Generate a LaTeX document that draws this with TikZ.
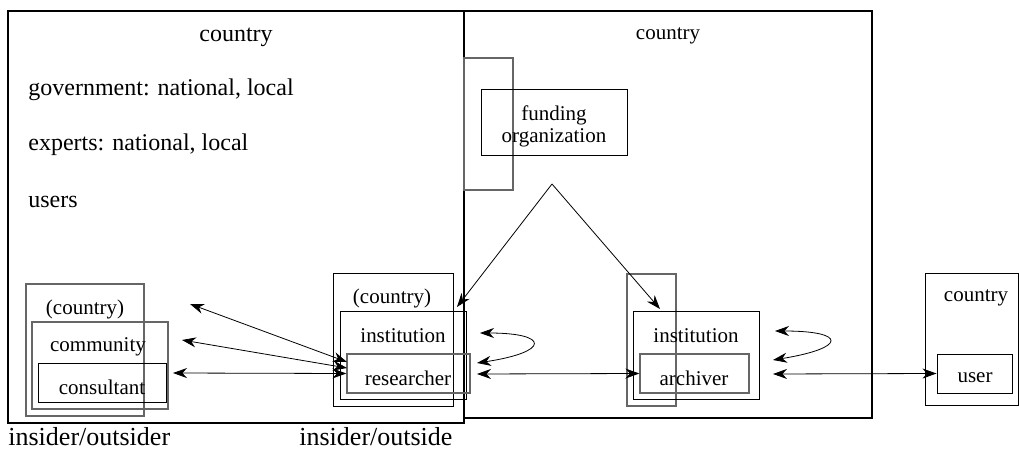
\documentclass[tikz,border=0pt]{standalone}
\usepackage{fontspec}
\setmainfont{Liberation Serif}
\usetikzlibrary{fit,arrows.meta}
\begin{document}
\begin{tikzpicture}[x=0.5pt,y=-0.5pt,
    >={Stealth[length=7pt,width=5pt]},
    every node/.style={inner sep=0pt,font=\fontsize{10.5}{11}\selectfont},
    bigtxt/.style={font=\fontsize{12}{13}\selectfont},
    note/.style={font=\fontsize{13}{14}\selectfont},
    frame/.style={draw,line width=1pt},
    box/.style={draw,line width=0.5pt},
    greybox/.style={draw=black!60,line width=0.6pt},
    link/.style={line width=0.4pt}]
    \useasboundingbox (0,0) rectangle (1019,449);

    % the two countries
    \node [frame,fit={(8,11) (464,423)}] (home) {};
    \node [frame,fit={(464,11) (872,418)}] (abroad) {};
    \node [bigtxt] (homelabel) at (236,37) {country};
    \node [bigtxt,anchor=west] (gov) at (28,90) {government: national, local};
    \node [bigtxt,anchor=west] (experts) at (28,145) {experts: national, local};
    \node [bigtxt,anchor=west] (users) at (28,202) {users};
    \node (abroadlabel) at (668,36) {country};

    % funding
    \node [greybox,fit={(464,58) (513,190)}] (fundframe) {};
    \node [box,fit={(481,90) (627,156)}] (fund) {};
    \node [align=center] (fundlabel) at (554,126) {funding\\organization};

    % insider/outsider side
    \node [greybox,fit={(26,284) (144,416)}] (ccountry) {};
    \node (ccountrylabel) at (85,309) {(country)};
    \node [greybox,fit={(32,322) (168,409)}] (comm) {};
    \node (commlabel) at (98,347) {community};
    \node [box,fit={(38,363) (166,402)}] (cons) {};
    \node (conslabel) at (102,387) {consultant};

    \node [box,fit={(333,274) (453,406)}] (icountry) {};
    \node (icountrylabel) at (392,298) {(country)};
    \node [box,fit={(340,312) (466,399)}] (inst) {};
    \node (instlabel) at (403,336) {institution};
    \node [greybox,fit={(347,354) (470,393)}] (res) {};
    \node (reslabel) at (408,378) {researcher};

    \node [note,anchor=west] (insout) at (8,437) {insider/outsider};
    \node [note,anchor=west] (insout2) at (299,437) {insider/outside};

    % archive side
    \node [greybox,fit={(627,274) (676,406)}] (archframe) {};
    \node [box,fit={(633,312) (759,399)}] (ainst) {};
    \node (ainstlabel) at (696,336) {institution};
    \node [greybox,fit={(640,354) (749,393)}] (arch) {};
    \node (archlabel) at (694,378) {archiver};

    \node [box,fit={(925,274) (1018,405)}] (far) {};
    \node (farlabel) at (976,298) {country};
    \node [box,fit={(937,354) (1012,393)}] (user) {};
    \node (userlabel) at (975,378) {user};

    % connectors
    \coordinate (l1) at (190,304);
    \coordinate (l2) at (182,340);
    \coordinate (l3) at (173,373);
    \coordinate (r1) at (347,362);
    \coordinate (r2) at (347,368);
    \draw [link,<->] (l1) -- (r1);
    \draw [link,<->] (l2) -- (r2);
    \draw [link,<->] (l3) -- (res.west);

    \coordinate (apex) at (552,184);
    \coordinate (fl) at (457,307);
    \coordinate (fr) at (660,309);
    \draw [link,->] (apex) -- (fl);
    \draw [link,->] (apex) -- (fr);

    \coordinate (rt) at (480,333);
    \coordinate (rb) at (477,363);
    \coordinate (rs) at (477,374);
    \draw [link,<->] (rt) .. controls (550,333) and (550,352) .. (rb);
    \draw [link,<->] (rs) -- (arch.west);

    \coordinate (at) at (775,331);
    \coordinate (ab) at (773,360);
    \coordinate (as) at (773,374);
    \draw [link,<->] (at) .. controls (847,331) and (847,348) .. (ab);
    \draw [link,<->] (as) -- (user.west);
\end{tikzpicture}
\end{document}
